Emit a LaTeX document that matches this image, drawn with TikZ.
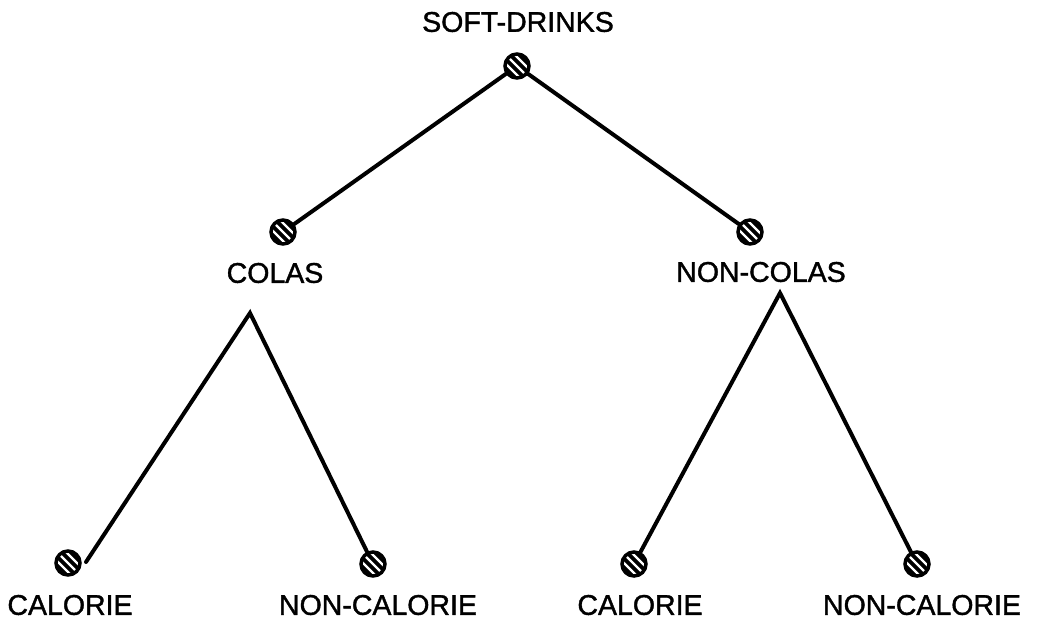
\documentclass[tikz,border=0pt]{standalone}
\usepackage{fontspec}
\setmainfont{Liberation Sans}
\begin{document}
\begin{tikzpicture}[x=1pt,y=-1pt,
  hnode/.style={circle, fill=black, draw=black, line width=3.5pt, minimum size=24pt, inner sep=0pt,
    path picture={
      \foreach \d in {-4.5,0,4.5}{
        \draw[white, line width=2.2pt]
          ([xshift=\d pt-9pt, yshift=\d pt+9pt]path picture bounding box.center) --
          ([xshift=\d pt+9pt, yshift=\d pt-9pt]path picture bounding box.center);
      }
    }},
  lbl/.style={font=\fontsize{28.5}{30}\selectfont\addfontfeature{FakeBold=1.3}, inner sep=0pt, anchor=center},
  edge/.style={line width=4pt, line cap=round}]
\useasboundingbox (0,0) rectangle (1040,619);
% nodes
\node[hnode] (root) at (517,66) {};
\node[lbl] (troot) at (518,22) {SOFT-DRINKS};
\node[hnode] (colas) at (283,232) {};
\node[lbl] (tcolas) at (275,273) {COLAS};
\node[hnode] (noncolas) at (750,232) {};
\node[lbl] (tnoncolas) at (761,272) {NON-COLAS};
\coordinate (ca) at (250,313);
\coordinate (na) at (780,293);
\node[hnode] (l1) at (68,563) {};
\node[hnode] (l2) at (373,564) {};
\node[hnode] (l3) at (634,564) {};
\node[hnode] (l4) at (917,564) {};
\coordinate (e1) at (86,562);
\node[lbl] (t1) at (70,605) {CALORIE};
\node[lbl] (t2) at (378,605) {NON-CALORIE};
\node[lbl] (t3) at (640,605) {CALORIE};
\node[lbl] (t4) at (922,605) {NON-CALORIE};
% edges
\draw[edge] (root) -- (colas);
\draw[edge] (root) -- (noncolas);
\draw[edge] (e1) -- (ca) -- (l2);
\draw[edge] (l3) -- (na) -- (l4);
\end{tikzpicture}
\end{document}
